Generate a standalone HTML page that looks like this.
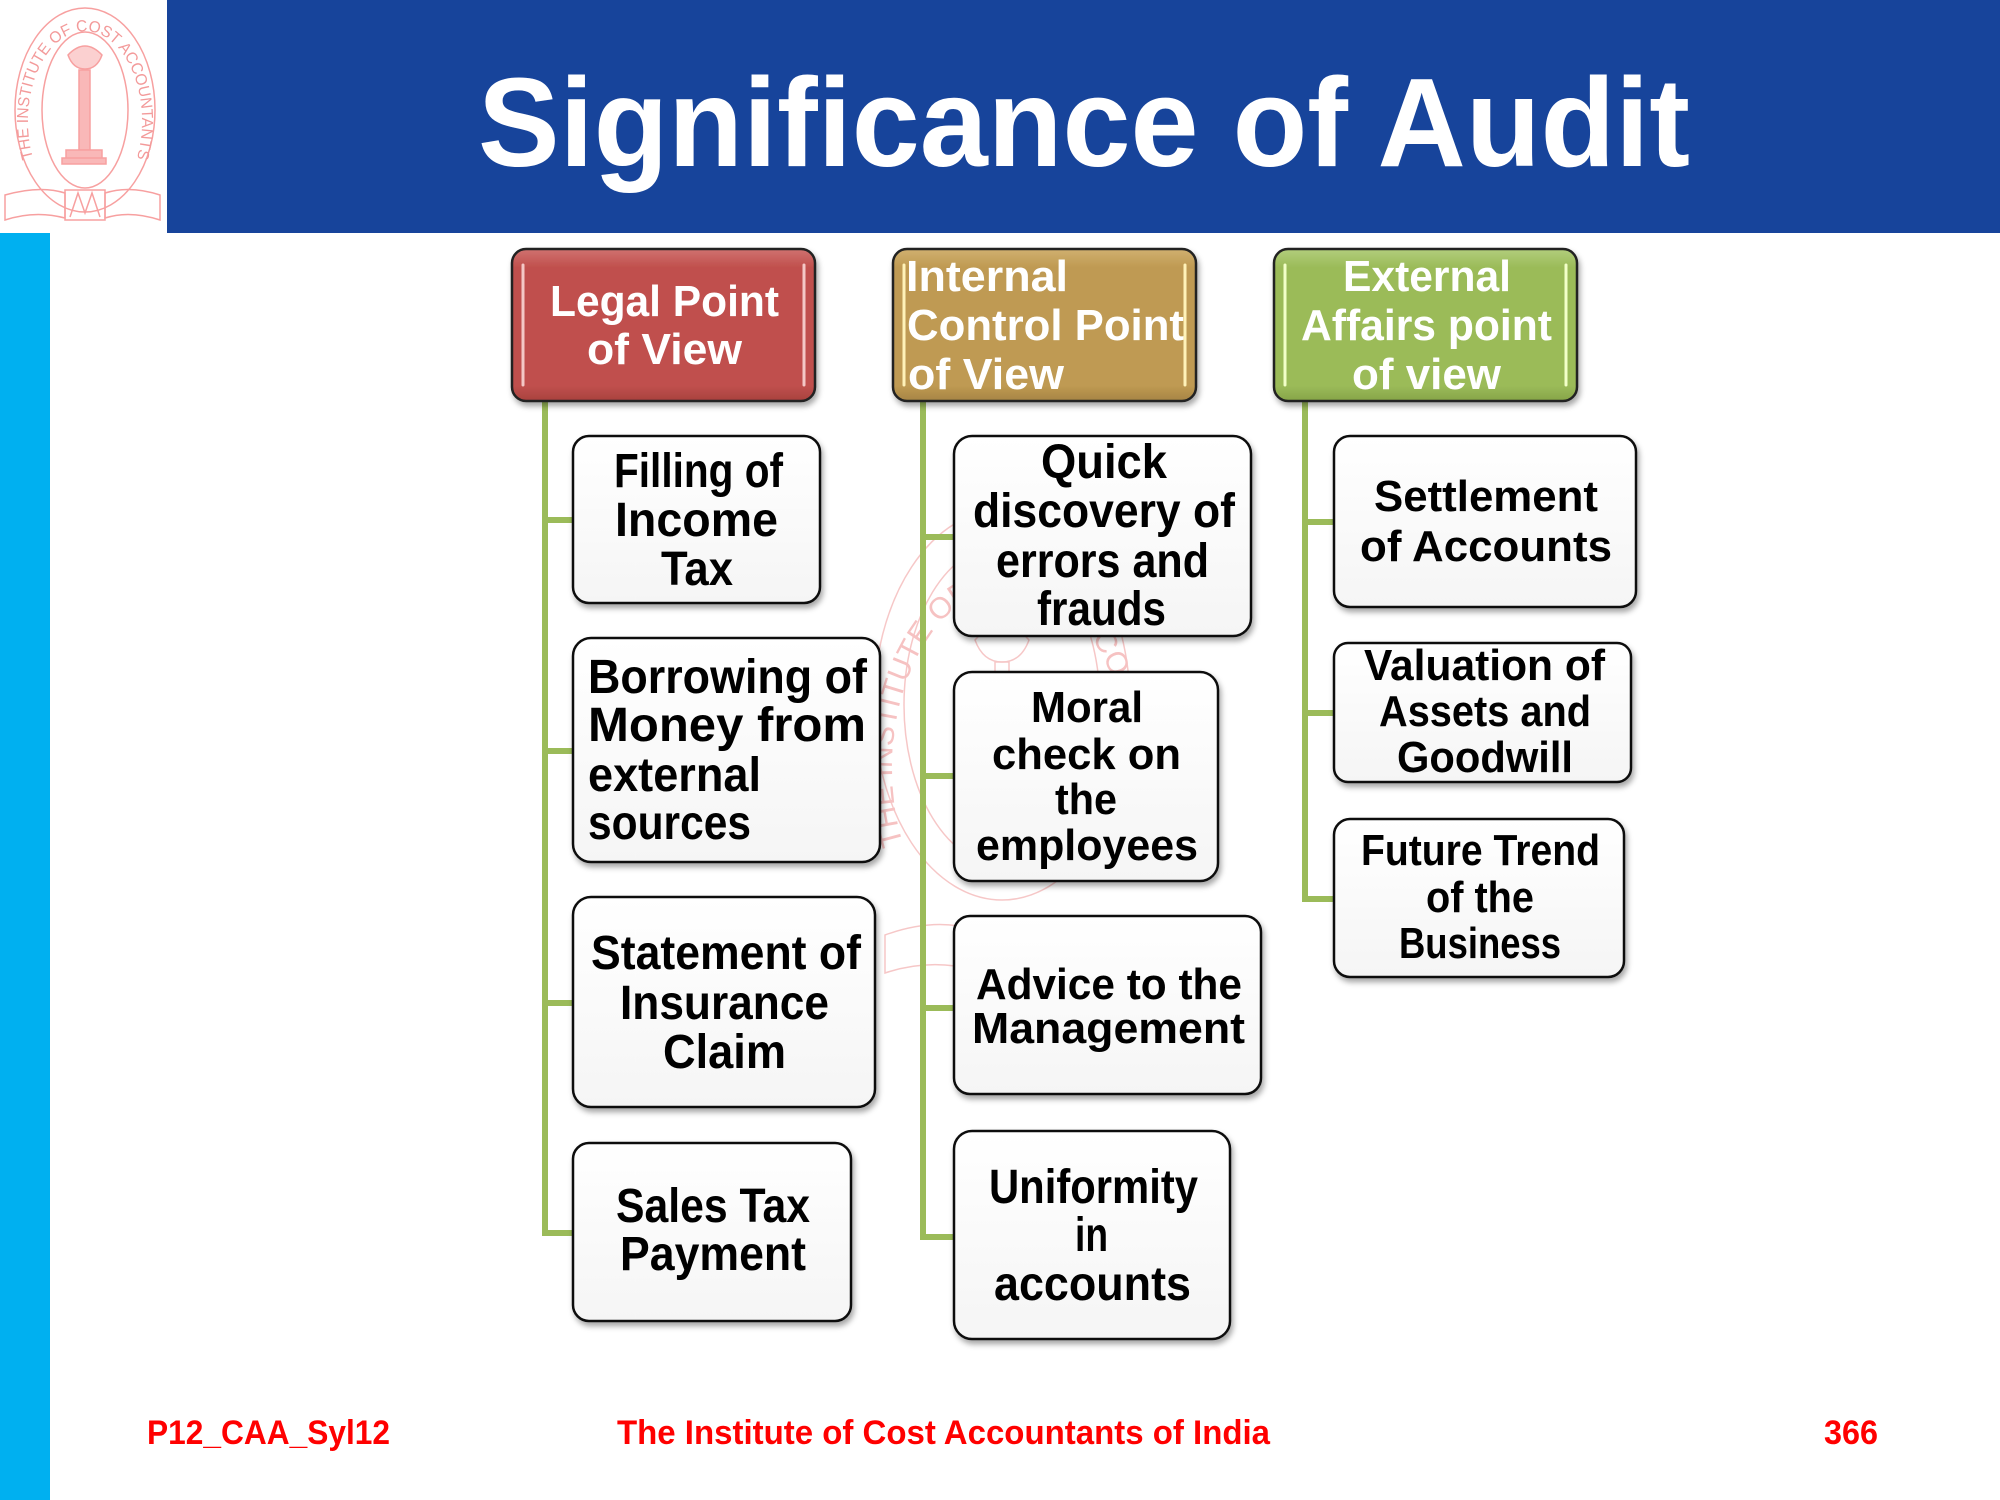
<!DOCTYPE html>
<html><head><meta charset="utf-8"><style>
html,body{margin:0;padding:0;background:#fff;}
svg{display:block;}
</style></head><body>
<svg xmlns="http://www.w3.org/2000/svg" width="2000" height="1500" viewBox="0 0 2000 1500">
<defs>
<filter id="sh" x="-10%" y="-10%" width="125%" height="130%">
<feDropShadow dx="2" dy="4" stdDeviation="3" flood-color="#000" flood-opacity="0.35"/>
</filter>
<linearGradient id="wg" x1="0" y1="0" x2="0" y2="1">
<stop offset="0" stop-color="#ffffff"/><stop offset="1" stop-color="#f5f5f5"/>
</linearGradient>
<linearGradient id="rg" x1="0" y1="0" x2="0" y2="1">
<stop offset="0" stop-color="#d07270"/><stop offset="0.12" stop-color="#c0504d"/><stop offset="0.9" stop-color="#c0504d"/><stop offset="1" stop-color="#a8413e"/>
</linearGradient>
<linearGradient id="yg" x1="0" y1="0" x2="0" y2="1">
<stop offset="0" stop-color="#d0b070"/><stop offset="0.12" stop-color="#bf9a52"/><stop offset="0.9" stop-color="#bf9a52"/><stop offset="1" stop-color="#a68444"/>
</linearGradient>
<linearGradient id="gg" x1="0" y1="0" x2="0" y2="1">
<stop offset="0" stop-color="#b2cd7c"/><stop offset="0.12" stop-color="#9bbb59"/><stop offset="0.9" stop-color="#9bbb59"/><stop offset="1" stop-color="#86a448"/>
</linearGradient>
<path id="logoArc" d="M 33 158 A 57 90 0 1 1 137 158"/>
<path id="wmArc" d="M 905 850 A 118 180 0 1 1 1115 850"/>
</defs>

<!-- header -->
<rect x="167" y="0" width="1833" height="233" fill="#17449b"/>
<rect x="0" y="233" width="50" height="1267" fill="#00b0f0"/>
<text x="478" y="166" font-family="Liberation Sans, sans-serif" font-weight="bold" font-size="126" fill="#fff" textLength="1212" lengthAdjust="spacingAndGlyphs">Significance of Audit</text>

<!-- logo -->
<g fill="none" stroke="#f7a0a0" stroke-width="1.5">
<ellipse cx="85" cy="110" rx="70" ry="102"/>
<ellipse cx="85" cy="110" rx="43" ry="78"/>
<rect x="79" y="70" width="11" height="80" fill="#f9b8b8"/>
<path d="M66 150 h36 v8 h-36z M62 158 h44 v6 h-44z" fill="#f9b8b8"/>
<path d="M68 55 q17 -18 34 0 q-5 14 -17 14 q-12 0 -17 -14z" fill="#fbd0d0"/>
<path d="M5 195 q35 -10 60 -2 l0 25 q-30 -8 -60 2z"/>
<path d="M105 193 q25 -8 55 2 l0 25 q-30 -10 -55 -2z"/>
<path d="M65 190 h40 v30 h-40z M70 217 l8 -24 l7 20 l7 -20 l8 24"/>
</g>
<text font-family="Liberation Sans, sans-serif" font-size="16" fill="#f39a9a"><textPath href="#logoArc" textLength="380" lengthAdjust="spacingAndGlyphs">THE INSTITUTE OF COST ACCOUNTANTS OF INDIA</textPath></text>

<!-- watermark -->
<g fill="none" stroke="#f6c2c2" stroke-width="1.5" opacity="0.9">
<ellipse cx="1002" cy="705" rx="128" ry="195"/>
<ellipse cx="1002" cy="705" rx="98" ry="160"/>
<path d="M975 640 q27 -30 54 0 q-8 22 -27 22 q-19 0 -27 -22z"/>
<rect x="995" y="662" width="14" height="150"/>
<path d="M885 935 q50 -18 90 -5 l0 40 q-45 -12 -90 3z M1030 928 q45 -12 90 5 l0 40 q-45 -15 -90 -3z M975 925 h55 v50 h-55z"/>
</g>
<text font-family="Liberation Sans, sans-serif" font-size="30" fill="#f6c2c2"><textPath href="#wmArc" startOffset="1%">THE INSTITUTE OF COST ACCOUNTANTS OF INDIA</textPath></text>

<!-- connectors -->
<g stroke="#9bbb59" stroke-width="6" fill="none">
<path d="M545 401 V1233 M545 520 H575 M545 751 H575 M545 1003 H575 M542 1233 H575"/>
<path d="M923 401 V1237 M923 537 H956 M923 776 H956 M923 1008 H956 M920 1237 H956"/>
<path d="M1305 401 V899 M1305 522 H1336 M1305 713 H1336 M1302 899 H1336"/>
</g>

<!-- header boxes -->
<g filter="url(#sh)" stroke="#222" stroke-width="2.5">
<rect x="512" y="249" width="303" height="152" rx="14" fill="url(#rg)"/>
<rect x="893" y="249" width="303" height="152" rx="14" fill="url(#yg)"/>
<rect x="1274" y="249" width="303" height="152" rx="14" fill="url(#gg)"/>
</g>
<g stroke-width="3" stroke-linecap="round">
<path d="M523 265 V385 M804 265 V385" stroke="#f4c8c6"/>
<path d="M904 265 V385 M1185 265 V385" stroke="#fff2b8"/>
<path d="M1285 265 V385 M1566 265 V385" stroke="#f2ffc8"/>
</g>
<g font-family="Liberation Sans, sans-serif" font-weight="bold" font-size="44" fill="#fff">
<text x="550" y="316" textLength="229" lengthAdjust="spacingAndGlyphs">Legal Point</text>
<text x="587" y="364" textLength="155" lengthAdjust="spacingAndGlyphs">of View</text>
<text x="906" y="291" textLength="162" lengthAdjust="spacingAndGlyphs">Internal</text>
<text x="907" y="340" textLength="277" lengthAdjust="spacingAndGlyphs">Control  Point</text>
<text x="908" y="389" textLength="156" lengthAdjust="spacingAndGlyphs">of View</text>
<text x="1343" y="291" textLength="168" lengthAdjust="spacingAndGlyphs">External</text>
<text x="1301" y="340" textLength="251" lengthAdjust="spacingAndGlyphs">Affairs point</text>
<text x="1352" y="389" textLength="149" lengthAdjust="spacingAndGlyphs">of view</text>
</g>

<!-- child boxes -->
<g filter="url(#sh)" stroke="#111" stroke-width="2.5" fill="url(#wg)">
<rect x="573" y="436" width="247" height="167" rx="16"/>
<rect x="573" y="638" width="307" height="224" rx="18"/>
<rect x="573" y="897" width="302" height="210" rx="18"/>
<rect x="573" y="1143" width="278" height="178" rx="16"/>
<rect x="954" y="436" width="297" height="200" rx="18"/>
<rect x="954" y="672" width="264" height="209" rx="18"/>
<rect x="954" y="916" width="307" height="178" rx="16"/>
<rect x="954" y="1131" width="276" height="208" rx="18"/>
<rect x="1334" y="436" width="302" height="171" rx="16"/>
<rect x="1334" y="643" width="297" height="139" rx="14"/>
<rect x="1334" y="819" width="290" height="158" rx="16"/>
</g>
<g font-family="Liberation Sans, sans-serif" font-weight="bold" fill="#000">
<g font-size="48">
<text x="614" y="487" textLength="169" lengthAdjust="spacingAndGlyphs">Filling of</text>
<text x="615" y="536" textLength="163" lengthAdjust="spacingAndGlyphs">Income</text>
<text x="661" y="585" textLength="72" lengthAdjust="spacingAndGlyphs">Tax</text>
<text x="588" y="693" textLength="279" lengthAdjust="spacingAndGlyphs">Borrowing  of</text>
<text x="588" y="741" textLength="278" lengthAdjust="spacingAndGlyphs">Money  from</text>
<text x="588" y="791" textLength="173" lengthAdjust="spacingAndGlyphs">external</text>
<text x="588" y="839" textLength="163" lengthAdjust="spacingAndGlyphs">sources</text>
<text x="591" y="969" textLength="270" lengthAdjust="spacingAndGlyphs">Statement of</text>
<text x="620" y="1019" textLength="209" lengthAdjust="spacingAndGlyphs">Insurance</text>
<text x="663" y="1068" textLength="123" lengthAdjust="spacingAndGlyphs">Claim</text>
<text x="616" y="1222" textLength="194" lengthAdjust="spacingAndGlyphs">Sales Tax</text>
<text x="620" y="1270" textLength="186" lengthAdjust="spacingAndGlyphs">Payment</text>
<text x="1041" y="478" textLength="126" lengthAdjust="spacingAndGlyphs">Quick</text>
<text x="973" y="527" textLength="262" lengthAdjust="spacingAndGlyphs">discovery of</text>
<text x="996" y="577" textLength="213" lengthAdjust="spacingAndGlyphs">errors and</text>
<text x="1037" y="625" textLength="129" lengthAdjust="spacingAndGlyphs">frauds</text>
<text x="989" y="1203" textLength="209" lengthAdjust="spacingAndGlyphs">Uniformity</text>
<text x="1075" y="1251" textLength="33" lengthAdjust="spacingAndGlyphs">in</text>
<text x="994" y="1300" textLength="197" lengthAdjust="spacingAndGlyphs">accounts</text>
</g>
<g font-size="44">
<text x="1031" y="722" textLength="112" lengthAdjust="spacingAndGlyphs">Moral</text>
<text x="992" y="769" textLength="189" lengthAdjust="spacingAndGlyphs">check on</text>
<text x="1055" y="814" textLength="62" lengthAdjust="spacingAndGlyphs">the</text>
<text x="976" y="860" textLength="222" lengthAdjust="spacingAndGlyphs">employees</text>
<text x="976" y="999" textLength="266" lengthAdjust="spacingAndGlyphs">Advice to the</text>
<text x="972" y="1043" textLength="273" lengthAdjust="spacingAndGlyphs">Management</text>
<text x="1374" y="511" textLength="224" lengthAdjust="spacingAndGlyphs">Settlement</text>
<text x="1360" y="561" textLength="252" lengthAdjust="spacingAndGlyphs">of Accounts</text>
<text x="1364" y="680" textLength="241" lengthAdjust="spacingAndGlyphs">Valuation of</text>
<text x="1379" y="726" textLength="212" lengthAdjust="spacingAndGlyphs">Assets and</text>
<text x="1397" y="772" textLength="176" lengthAdjust="spacingAndGlyphs">Goodwill</text>
<text x="1361" y="865" textLength="239" lengthAdjust="spacingAndGlyphs">Future Trend</text>
<text x="1426" y="912" textLength="108" lengthAdjust="spacingAndGlyphs">of the</text>
<text x="1399" y="958" textLength="162" lengthAdjust="spacingAndGlyphs">Business</text>
</g>
</g>

<!-- footer -->
<g font-family="Liberation Sans, sans-serif" font-weight="bold" font-size="34" fill="#ff0000">
<text x="147" y="1444" textLength="243" lengthAdjust="spacingAndGlyphs">P12_CAA_Syl12</text>
<text x="617" y="1444" textLength="653" lengthAdjust="spacingAndGlyphs">The Institute of Cost Accountants of India</text>
<text x="1824" y="1444" textLength="54" lengthAdjust="spacingAndGlyphs">366</text>
</g>
</svg>
</body></html>
